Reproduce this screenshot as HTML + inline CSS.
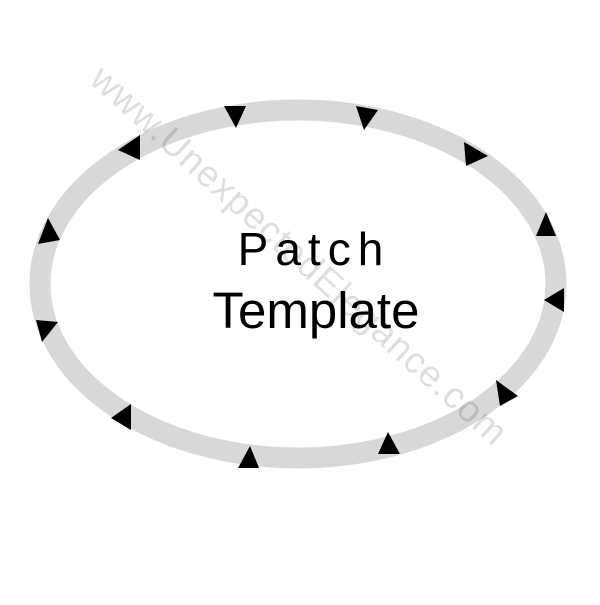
<!DOCTYPE html>
<html><head><style>html,body{margin:0;padding:0;background:#fff}</style></head>
<body>
<svg width="600" height="600" viewBox="0 0 600 600" xmlns="http://www.w3.org/2000/svg">
<rect width="600" height="600" fill="#fff"/>
<ellipse cx="298" cy="284" rx="258" ry="174" fill="none" stroke="#d8d8d8" stroke-width="21"/>
<g fill="#000">
<polygon points="224,106 246,106 236,128"/>
<polygon points="356,106 378,110 364,130"/>
<polygon points="464,142 488,156 466,166"/>
<polygon points="536,236 556,236 546,212"/>
<polygon points="564,288 564,312 544,300"/>
<polygon points="496,380 518,396 500,406"/>
<polygon points="378,454 400,454 388,432"/>
<polygon points="238,468 259,468 250,446"/>
<polygon points="111,418 131,404 131,430"/>
<polygon points="36,320 58,322 42,342"/>
<polygon points="38,244 60,240 48,218"/>
<polygon points="118,150 140,135 140,160"/>
</g>
<text x="314" y="265" text-anchor="middle" font-family="Liberation Sans, sans-serif" font-size="46" letter-spacing="7" fill="#000">Patch</text>
<text x="316" y="328" text-anchor="middle" font-family="Liberation Sans, sans-serif" font-size="51" fill="#000">Template</text>
<text x="0" y="0" transform="translate(88,82) rotate(42)" font-family="Liberation Sans, sans-serif" font-size="37" fill="#000" fill-opacity="0.13" letter-spacing="1">www.UnexpectedElegance.com</text>
</svg>
</body></html>
